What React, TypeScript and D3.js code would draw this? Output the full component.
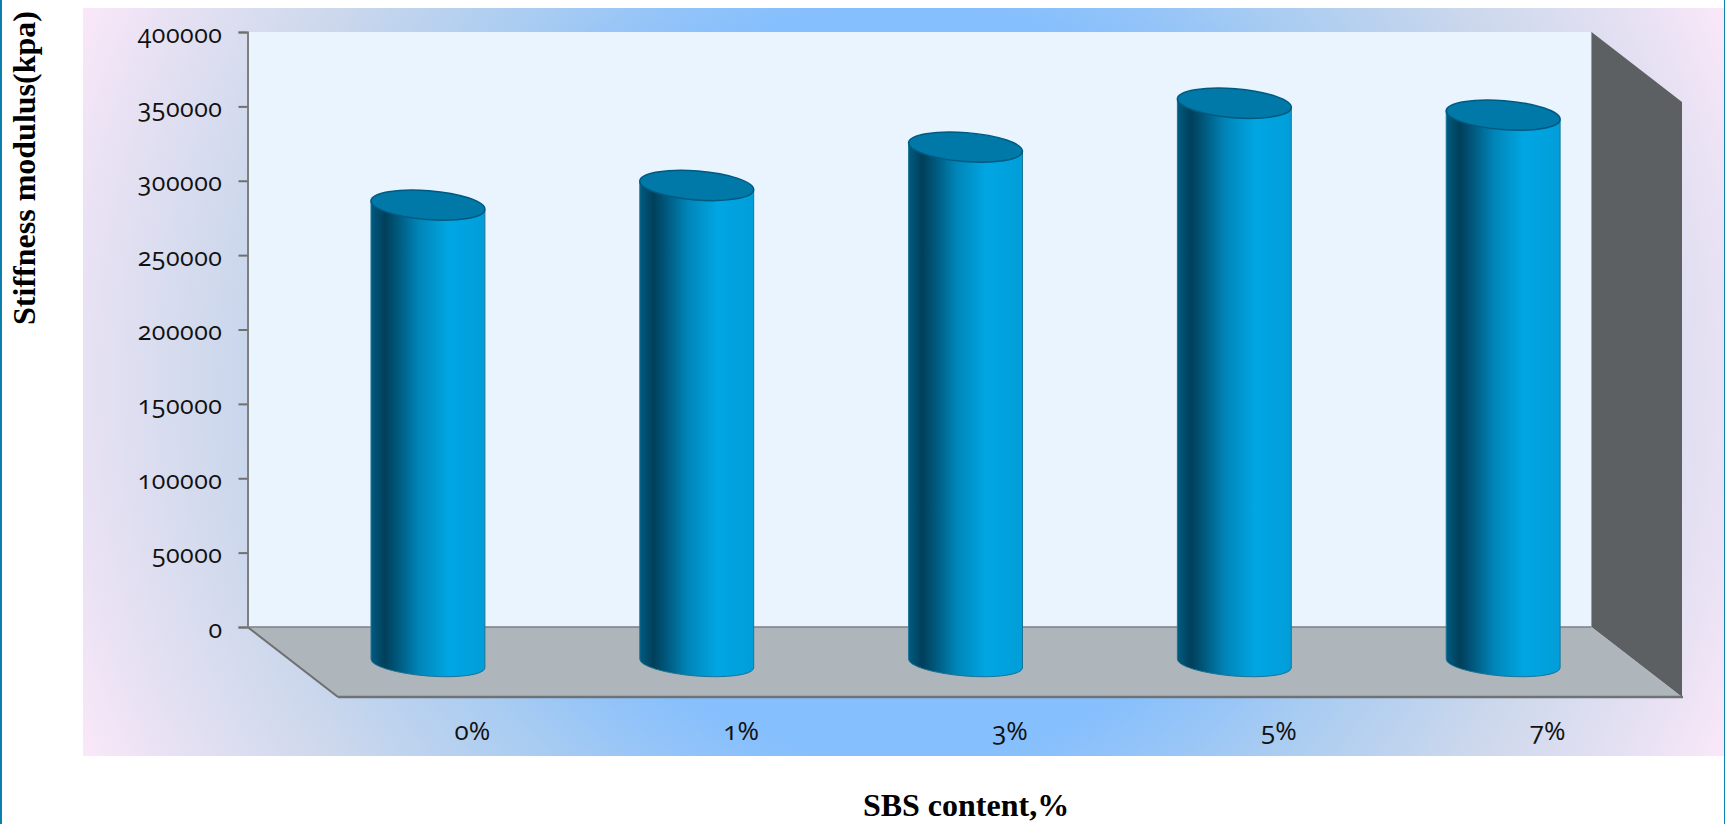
import React, { useEffect, useRef } from "react";
import * as d3 from "d3";

const categories = ["0%", "1%", "3%", "5%", "7%"];
const stiffness = [307500, 320700, 346500, 376000, 368000];
const yTicks = [0, 50000, 100000, 150000, 200000, 250000, 300000, 350000, 400000];

const W = 1725, H = 824;
const panel = { l: 83, r: 1724, t: 8, b: 756 };
const wall = { l: 247.5, r: 1591.5, t: 32, b: 627 };
const depth = { dx: 90.5, dy: 70 };
const TICK_FONT = "'Open Sans', sans-serif";

export default function App() {
  const yRef = useRef<SVGGElement>(null);
  const xRef = useRef<SVGGElement>(null);

  const y = d3.scaleLinear().domain([0, 400000]).range([wall.b, wall.t]);
  const xMid = d3.scaleBand().domain(categories).range([wall.l + depth.dx / 2 + 0.8, wall.r + depth.dx / 2 + 0.8]);
  const xFront = d3.scaleBand().domain(categories).range([wall.l + depth.dx, wall.r + depth.dx]);
  const rx = xMid.bandwidth() * 0.2125;
  const ry = 14.5;
  const ryBottom = 12.5;
  const tilt = 4.5;
  const ca = Math.cos((tilt * Math.PI) / 180) * rx;
  const sa = Math.sin((tilt * Math.PI) / 180) * rx;
  const midShift = depth.dy / 2 + 0.5;

  useEffect(() => {
    const gy = d3.select(yRef.current!);
    gy.call(d3.axisLeft(y).tickValues(yTicks).tickSize(9).tickPadding(16).tickFormat(d3.format("d")) as any);
    gy.selectAll("path.domain").attr("stroke", "#7f7f7f").attr("stroke-width", 2);
    gy.selectAll("line").attr("stroke", "#6f6f6f").attr("stroke-width", 2);
    gy.selectAll("text")
      .attr("font-family", TICK_FONT)
      .attr("font-size", 25)
      .attr("fill", "#111")
      .attr("dy", 10)
      .style("letter-spacing", "0.5px")
      .style("font-variant-numeric", "oldstyle-nums");
    const gx = d3.select(xRef.current!);
    gx.call(d3.axisBottom(xFront).tickSize(0).tickPadding(0) as any);
    gx.select("path.domain").remove();
    gx.selectAll("text")
      .attr("font-family", TICK_FONT)
      .attr("font-size", 26)
      .attr("fill", "#111")
      .attr("dy", 0)
      .attr("y", 43)
      .style("font-variant-numeric", "oldstyle-nums");
  }, []);

  const floorPts = [
    [wall.l, wall.b], [wall.r, wall.b], [wall.r + depth.dx, wall.b + depth.dy], [wall.l + depth.dx, wall.b + depth.dy],
  ].join(" ");
  const sidePts = [
    [wall.r, wall.t], [wall.r + depth.dx, wall.t + depth.dy], [wall.r + depth.dx, wall.b + depth.dy], [wall.r, wall.b],
  ].join(" ");

  return (
    <svg width={W} height={H} style={{ position: "absolute", left: 0, top: 0, display: "block" }}>
      <defs>
        <radialGradient id="bg" gradientUnits="userSpaceOnUse" cx={(panel.l + panel.r) / 2} cy={(panel.t + panel.b) / 2} r={905}>
          <stop offset="0" stopColor="#85bffd" />
          <stop offset="0.415" stopColor="#85bffd" />
          <stop offset="0.5" stopColor="#97c5f7" />
          <stop offset="0.56" stopColor="#a6cbf2" />
          <stop offset="0.75" stopColor="#cdd8ec" />
          <stop offset="0.9" stopColor="#e6e1f3" />
          <stop offset="1" stopColor="#fbe8f9" />
        </radialGradient>
        <linearGradient id="cyl" x1="0" x2="1" y1="0" y2="0">
          <stop offset="0" stopColor="#005b80" />
          <stop offset="0.12" stopColor="#003f5a" />
          <stop offset="0.22" stopColor="#005578" />
          <stop offset="0.42" stopColor="#0085b8" />
          <stop offset="0.68" stopColor="#00a6e3" />
          <stop offset="1" stopColor="#009ed9" />
        </linearGradient>
      </defs>
      <rect width={W} height={H} fill="#fff" />
      <rect x={0} y={0} width={2} height={H} fill="#0b7fae" />
      <rect x={panel.r} y={0} width={W - panel.r} height={H} fill="#0b7fae" />
      <rect x={panel.l} y={panel.t} width={panel.r - panel.l} height={panel.b - panel.t} fill="url(#bg)" />

      <rect x={wall.l} y={wall.t} width={wall.r - wall.l} height={wall.b - wall.t} fill="#e9f4fe" />
      <polygon points={sidePts} fill="#5c6063" />
      <line x1={wall.r} x2={wall.r} y1={wall.t} y2={wall.b} stroke="#9a9ea1" strokeWidth={1} />
      <polygon points={floorPts} fill="#aeb5bb" />
      <line x1={wall.l} x2={wall.r} y1={wall.b} y2={wall.b} stroke="#7d8184" strokeWidth={1.5} />
      <line x1={wall.l} y1={wall.b} x2={wall.l + depth.dx} y2={wall.b + depth.dy} stroke="#6f6f6f" strokeWidth={2} />
      <line x1={wall.l + depth.dx} x2={wall.r + depth.dx + 1} y1={wall.b + depth.dy} y2={wall.b + depth.dy} stroke="#6f7376" strokeWidth={2.5} />

      <g ref={yRef} transform={`translate(${wall.l},0)`} />
      <g ref={xRef} transform={`translate(0,${wall.b + depth.dy})`} />

      {categories.map((c, i) => {
        const cx = xMid(c)! + xMid.bandwidth() / 2;
        const top = y(stiffness[i]) + midShift;
        const bot = y(0) + midShift + 1;
        const body = `M${cx - ca},${top - sa} L${cx - ca},${bot - sa} A${rx},${ryBottom} ${tilt} 0 0 ${cx + ca},${bot + sa} L${cx + ca},${top + sa} Z`;
        return (
          <g key={c}>
            <path d={body} fill="url(#cyl)" stroke="#1c7396" strokeWidth={1} />
            <ellipse cx={cx} cy={top} rx={rx} ry={ry} transform={`rotate(${tilt} ${cx} ${top})`} fill="#0078a8" stroke="#005a80" strokeWidth={1.5} />
          </g>
        );
      })}

      <text x={966} y={816} textAnchor="middle" fontFamily="'Liberation Serif', serif" fontWeight="bold" fontSize={32} fill="#000">SBS content,%</text>
      <text transform="translate(35,168) rotate(-90)" textAnchor="middle" fontFamily="'Liberation Serif', serif" fontWeight="bold" fontSize={32} fill="#000">Stiffness modulus(kpa)</text>
    </svg>
  );
}
